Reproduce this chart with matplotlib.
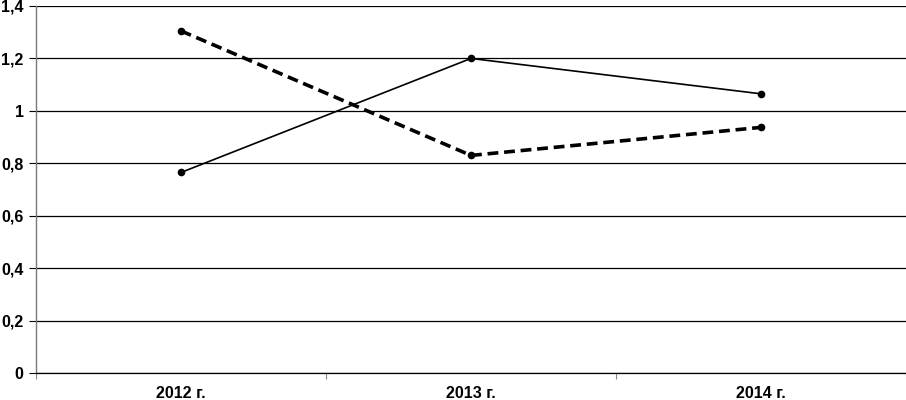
import matplotlib
matplotlib.use("Agg")
from matplotlib import pyplot as plt
from matplotlib.ticker import FixedLocator, FuncFormatter

years = ["2012 г.", "2013 г.", "2014 г."]
solid_values = [0.765, 1.2, 1.065]
dashed_values = [1.305, 0.83, 0.937]
y_ticks = [0, 0.2, 0.4, 0.6, 0.8, 1.0, 1.2, 1.4]

plt.rcParams["font.family"] = ["Liberation Sans", "DejaVu Sans"]

fig = plt.figure(figsize=(9.06, 4.0), dpi=100)
ax = fig.add_axes([36 / 906, 27 / 400, 870 / 906, 367 / 400])

x = list(range(len(years)))
ax.plot(x, solid_values, color="black", linewidth=1.2, marker="o", markersize=4.5)
ax.plot(x, dashed_values, color="black", linewidth=2.6, linestyle=(0, (3, 1.6)),
        marker="o", markersize=4.5)

ax.set_xlim(-0.5, len(years) - 0.5)
ax.set_ylim(0, 1.4)
ax.set_yticks(y_ticks)
ax.yaxis.set_major_formatter(FuncFormatter(lambda v, p: f"{v:g}".replace(".", ",")))
ax.yaxis.grid(True, color="black", linewidth=0.9)
ax.set_axisbelow(True)

ax.set_xticks(x)
ax.set_xticklabels(years)
ax.xaxis.set_minor_locator(FixedLocator([-0.5, 0.5, 1.5, 2.5]))
ax.tick_params(axis="x", which="major", length=0, pad=9)
ax.tick_params(axis="x", which="minor", length=4, color="#888888", width=0.8, direction="out")
ax.tick_params(axis="y", length=5, width=0.8, color="black", pad=4)

for lbl in ax.get_xticklabels() + ax.get_yticklabels():
    lbl.set_fontsize(11.5)
    lbl.set_fontweight("bold")

for side in ["top", "right"]:
    ax.spines[side].set_visible(False)
ax.spines["left"].set_color("#777777")
ax.spines["left"].set_linewidth(1.0)
ax.spines["bottom"].set_color("black")
ax.spines["bottom"].set_linewidth(0.9)

fig.savefig("out.png", dpi=100)
